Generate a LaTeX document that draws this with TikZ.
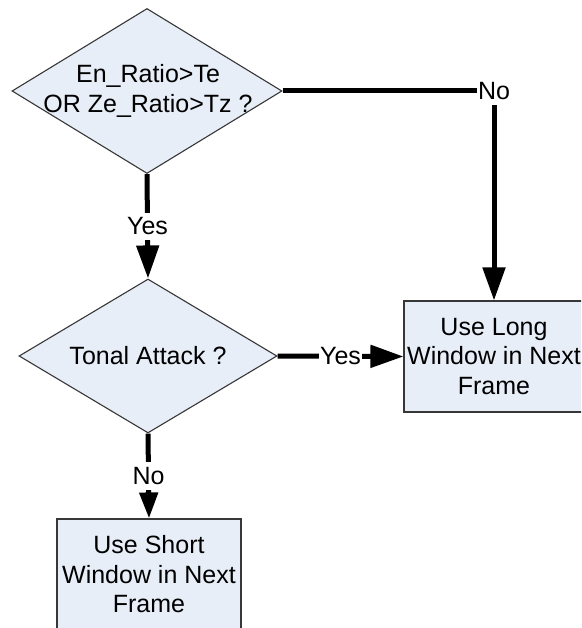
\documentclass[tikz,border=0pt]{standalone}
\usepackage{fontspec}
\setmainfont{Liberation Sans}
\usetikzlibrary{shapes.geometric,arrows.meta}
\definecolor{boxfill}{RGB}{232,238,248}
\definecolor{edgegray}{RGB}{55,55,55}
\tikzset{
  txt/.style={font=\fontsize{25}{29.5}\selectfont, align=center, inner sep=0pt},
  decision/.style={diamond, draw=edgegray, fill=boxfill, line width=1.1pt, inner sep=0pt},
  actionbox/.style={rectangle, draw=edgegray, fill=boxfill, line width=1.1pt, inner sep=0pt,
    minimum width=#1, minimum height=111pt, font=\fontsize{25}{29.5}\selectfont, align=center},
  conn/.style={line width=5pt, -{Triangle[length=33pt,width=22pt]}},
  connsmall/.style={line width=5pt, -{Triangle[length=26pt,width=18pt]}},
  lbl/.style={fill=white, font=\fontsize{25}{29.5}\selectfont, inner xsep=1pt, inner ysep=5pt}
}
\begin{document}
\begin{tikzpicture}[x=1pt,y=-1pt]
\path[use as bounding box] (0,0) rectangle (581,628);
\clip (0,0) rectangle (581,628);
\fill[white] (0,0) rectangle (581,628);

\node[decision, minimum width=270pt, minimum height=165pt] (d1) at (147,91) {};
\node[txt] (d1t) at (148,91) {En\_Ratio>Te\\OR Ze\_Ratio>Tz ?};

\node[decision, minimum width=258pt, minimum height=154pt] (d2) at (148,356) {};
\node[txt] (d2t) at (148,356) {Tonal Attack ?};

\node[actionbox=180pt] (long) at (494,356.5) {Use Long\\Window in Next\\Frame};
\node[actionbox=184pt] (short) at (149,574.5) {Use Short\\Window in Next\\Frame};

\draw[conn] (d1.east) -| node[lbl] (lno) {No} (long.north);
\draw[conn] (d1.south) -- node[lbl] (lyes1) {Yes} (d2.north);
\draw[conn] (d2.east) -- node[lbl] (lyes2) {Yes} (long.west);
\draw[connsmall] (d2.south) -- node[lbl] (lno2) {No} (short.north);
\end{tikzpicture}
\end{document}
